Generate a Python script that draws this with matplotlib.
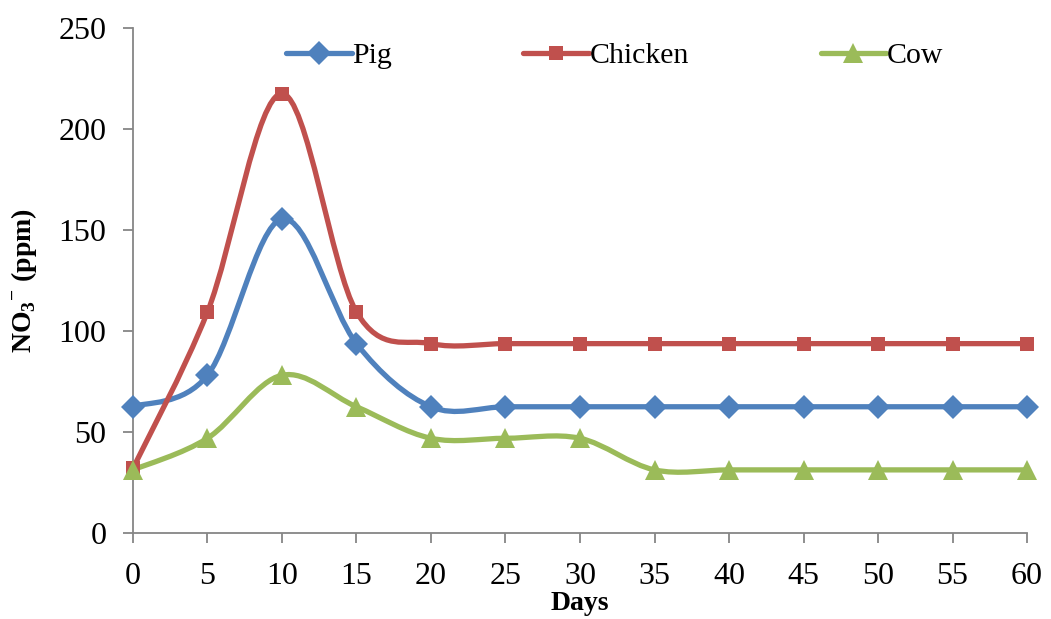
import matplotlib
matplotlib.use('Agg')
import matplotlib.pyplot as plt
from matplotlib.path import Path
from matplotlib.patches import PathPatch
from matplotlib.lines import Line2D
import numpy as np

# 数据
days = [0, 5, 10, 15, 20, 25, 30, 35, 40, 45, 50, 55, 60]
pig = [62.5, 78.1, 155.5, 93.75, 62.5, 62.5, 62.5, 62.5, 62.5, 62.5, 62.5, 62.5, 62.5]
chicken = [32.0, 109.4, 217.5, 109.4, 93.75, 93.75, 93.75, 93.75, 93.75, 93.75, 93.75, 93.75, 93.75]
cow = [31.25, 46.9, 78.1, 62.5, 46.9, 46.9, 46.9, 31.25, 31.25, 31.25, 31.25, 31.25, 31.25]
names = ['Pig', 'Chicken', 'Cow']
colors = ['#4F81BD', '#C0504D', '#9BBB59']
markers = ['D', 's', '^']
msizes = [12.5, 10, 15]

plt.rcParams['font.family'] = ['Liberation Serif', 'DejaVu Serif']
plt.rcParams['mathtext.fontset'] = 'custom'
plt.rcParams['mathtext.rm'] = 'Liberation Serif'
plt.rcParams['mathtext.bf'] = 'Liberation Serif:bold'


def smooth_path(x, y):
    # Excel风格的平滑曲线（贝塞尔控制点）
    pts = np.column_stack([x, y]).astype(float)
    n = len(pts)
    verts = [pts[0]]
    codes = [Path.MOVETO]
    for i in range(n - 1):
        p0 = pts[i - 1] if i > 0 else pts[i]
        p1 = pts[i]
        p2 = pts[i + 1]
        p3 = pts[i + 2] if i + 2 < n else pts[i + 1]
        c1 = p1 + (p2 - p0) / 6
        c2 = p2 - (p3 - p1) / 6
        verts += [c1, c2, p2]
        codes += [Path.CURVE4] * 3
    return Path(verts, codes)


fig = plt.figure(figsize=(10.51, 6.19), dpi=100)
ax = fig.add_axes([0.1265, 0.1389, 0.8507, 0.8159])

handles = []
for vals, name, c, m, ms in zip([pig, chicken, cow], names, colors, markers, msizes):
    patch = PathPatch(smooth_path(days, vals), facecolor='none', edgecolor=c,
                      lw=3.8, capstyle='round', joinstyle='round', zorder=2)
    ax.add_patch(patch)
    ax.plot(days, vals, linestyle='none', marker=m, color=c, markersize=ms,
            markeredgewidth=0, zorder=3, clip_on=False)
    handles.append(Line2D([], [], color=c, lw=3.8, marker=m, markersize=ms,
                          markeredgewidth=0, solid_capstyle='round'))

ax.set_xlim(0, 60)
ax.set_ylim(0, 250)
ax.set_xticks(days)
ax.set_yticks([0, 50, 100, 150, 200, 250])
ax.tick_params(labelsize=23, length=7, width=1.3, color='#868686', direction='out')
ax.tick_params(axis='x', pad=14)
ax.tick_params(axis='y', pad=12)
for s in ['top', 'right']:
    ax.spines[s].set_visible(False)
for s in ['left', 'bottom']:
    ax.spines[s].set_color('#868686')
    ax.spines[s].set_linewidth(1.3)

ax.set_xlabel('Days', fontsize=20, fontweight='bold', labelpad=0)
ax.set_ylabel(r'NO$_\mathbf{3}$$^\mathbf{-}$ (ppm)', fontsize=20, fontweight='bold', labelpad=14)

ax.legend(handles, names, loc='upper left', bbox_to_anchor=(0.141, 1.025), ncol=3,
          frameon=False, fontsize=21.5, handlelength=2.2, handletextpad=0.02,
          columnspacing=4.4)

fig.savefig('out.png', dpi=100)
